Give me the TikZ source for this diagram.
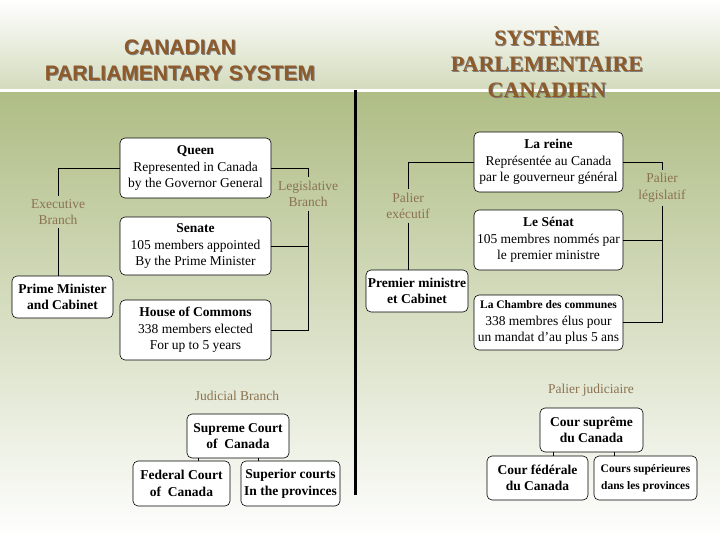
\documentclass[tikz,border=0pt]{standalone}
\usepackage{fontspec}
\setmainfont{Liberation Serif}
\newfontfamily\titlesans{Liberation Sans}
\definecolor{bggreen}{HTML}{AFBD85}
\definecolor{titlebrown}{HTML}{8E5A2A}
\definecolor{lblbrown}{HTML}{8A7250}
\tikzset{
  box/.style={draw=black, fill=white, rounded corners=5pt, line width=0.6pt, align=center, inner sep=0pt, font=\fontsize{13.5}{16.5}\selectfont},
  lbl/.style={text=lblbrown, align=center, font=\fontsize{13.5}{16.5}\selectfont},
  conn/.style={draw=black, line width=0.6pt},
  ttl/.style={text=titlebrown, align=center, font=\bfseries\fontsize{22}{26}\selectfont}
}
\begin{document}
\begin{tikzpicture}[x=1pt,y=-1pt]
\useasboundingbox (0,0) rectangle (720,540);
\shade[top color=white, bottom color=bggreen!55] (0,0) rectangle (720,90);
\shade[top color=bggreen, bottom color=white] (0,92) rectangle (720,540);
\fill[white] (0,89.5) rectangle (720,92);
\draw[line width=3pt] (355,90) -- (355,495);
% titles
\node[ttl, font=\titlesans\bfseries\fontsize{21}{26}\selectfont, text=black!50] (tshl) at (181,61) {CANADIAN\\PARLIAMENTARY SYSTEM};
\node[ttl, font=\titlesans\bfseries\fontsize{21}{26}\selectfont] (tl) at (180,60) {CANADIAN\\PARLIAMENTARY SYSTEM};
\node[ttl, text=black!50] (tshr) at (548,63) {SYSTÈME\\PARLEMENTAIRE\\CANADIEN};
\node[ttl] (tr) at (547,62) {SYSTÈME\\PARLEMENTAIRE\\CANADIEN};
% left boxes
\node[box, minimum width=151pt, minimum height=60pt] (queen) at (195.5,168) {\textbf{Queen}\\Represented in Canada\\by the Governor General};
\node[box, minimum width=151pt, minimum height=58pt] (senate) at (195.5,246) {\textbf{Senate}\\105 members appointed\\By the Prime Minister};
\node[box, minimum width=151pt, minimum height=60pt] (commons) at (195.5,330) {\textbf{House of Commons}\\338 members elected\\For up to 5 years};
\node[box, minimum width=101pt, minimum height=42pt] (pm) at (62.5,297) {\textbf{Prime Minister}\\\textbf{and Cabinet}};
\node[lbl] (exec) at (58,212) {Executive\\Branch};
\node[lbl] (leg) at (308,194) {Legislative\\Branch};
\draw[conn] (queen.west) -| (exec.north);
\draw[conn] (exec.south) -- (pm.north -| exec.south);
\draw[conn] (queen.east) -| (leg.north);
\draw[conn] (leg.south) |- (commons.east);
\draw[conn] (senate.east) -- (senate.east -| leg.south);
% right boxes
\node[box, minimum width=149pt, minimum height=60pt] (reine) at (548.5,162) {\textbf{La reine}\\Représentée au Canada\\par le gouverneur général};
\node[box, minimum width=149pt, minimum height=60pt] (senat) at (548.5,240) {\textbf{Le Sénat}\\105 membres nommés par\\le premier ministre};
\node[box, minimum width=149pt, minimum height=55pt] (chambre) at (548.5,322.5) {\textbf{\fontsize{11.5}{15}\selectfont La Chambre des communes}\\338 membres élus pour\\un mandat d’au plus 5 ans};
\node[box, minimum width=102pt, minimum height=42pt] (pmfr) at (417,291) {\textbf{Premier ministre}\\\textbf{et Cabinet}};
\node[lbl] (execfr) at (408,206) {Palier\\exécutif};
\node[lbl] (legfr) at (662,188) {Palier\\législatif};
\draw[conn] (reine.west) -| (execfr.north);
\draw[conn] (execfr.south) -- (pmfr.north -| execfr.south);
\draw[conn] (reine.east) -| (legfr.north);
\draw[conn] (legfr.south) |- (chambre.east);
\draw[conn] (senat.east) -- (senat.east -| legfr.south);
% judicial left
\node[lbl] (jud) at (237,396) {Judicial Branch};
\node[box, minimum width=102pt, minimum height=44pt] (sc) at (238,436) {\textbf{Supreme Court}\\\textbf{of\ \ Canada}};
\node[box, minimum width=97pt, minimum height=45pt] (fc) at (181.5,483.5) {\textbf{Federal Court}\\\textbf{of\ \ Canada}};
\node[box, minimum width=99pt, minimum height=45pt] (spc) at (290.5,483.5) {\textbf{Superior courts}\\\textbf{In the provinces}};
\draw[conn] (sc.south -| 198,0) -- (fc.north -| 198,0);
\draw[conn] (sc.south -| 258,0) -- (spc.north -| 258,0);
% judicial right
\node[lbl] (judfr) at (591,390) {Palier judiciaire};
\node[box, minimum width=103pt, minimum height=44pt] (csc) at (591.5,430) {\textbf{Cour suprême}\\\textbf{du Canada}};
\node[box, minimum width=101pt, minimum height=44pt] (cf) at (537.5,478) {\textbf{Cour fédérale}\\\textbf{du Canada}};
\node[box, minimum width=103pt, minimum height=44pt] (cs) at (645.5,478) {\textbf{\fontsize{11.5}{15}\selectfont Cours supérieures}\\\textbf{\fontsize{11.5}{15}\selectfont dans les provinces}};
\draw[conn] (csc.south -| 553,0) -- (cf.north -| 553,0);
\draw[conn] (csc.south -| 614,0) -- (cs.north -| 614,0);
\end{tikzpicture}
\end{document}
